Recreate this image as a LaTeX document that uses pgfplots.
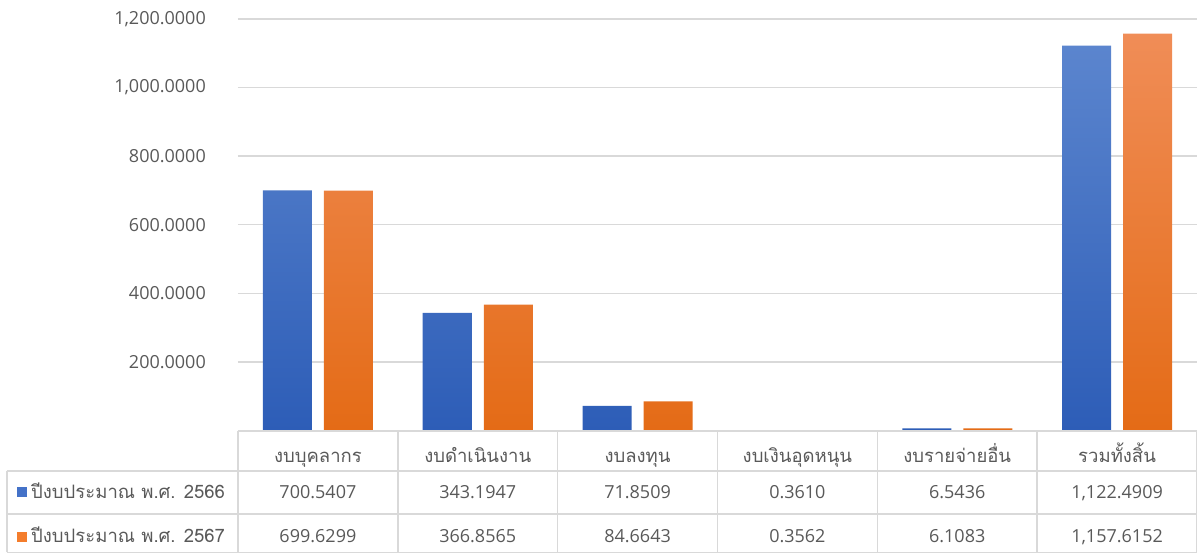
\documentclass[border=0pt]{standalone}
\usepackage{fontspec}
\setmainfont{Open Sans}
\newfontfamily\thaifont[Script=Thai]{Loma}
\usepackage{pgfplots}
\pgfplotsset{compat=1.18}
\definecolor{txt}{HTML}{595959}
\definecolor{gridc}{HTML}{D9D9D9}
\definecolor{btop}{HTML}{5B85CE}
\definecolor{bmid}{HTML}{4472C8}
\definecolor{bbot}{HTML}{2D5DB7}
\definecolor{otop}{HTML}{F08D57}
\definecolor{omid}{HTML}{F47D2C}
\definecolor{obot}{HTML}{E46B16}
\begin{document}
\begin{tikzpicture}[font=\fontsize{18}{21}\selectfont, text=txt]
\begin{axis}[
  at={(0,0)}, anchor=south west,
  scale only axis, width=959pt, height=411.5pt,
  xmin=-0.5, xmax=5.5, ymin=0, ymax=1200,
  ybar, clip=false,
  axis line style={draw=none}, tick style={draw=none},
  ytick={200,400,...,1200},
  ymajorgrids, grid style={gridc, line width=1.5pt},
  /pgf/number format/assume math mode=true,
  yticklabel style={/pgf/number format/fixed, /pgf/number format/fixed zerofill, /pgf/number format/precision=4, /pgf/number format/1000 sep={,},
    inner sep=0pt, xshift=-32pt, text=txt, font=\fontsize{18}{21}\selectfont},
  xtick={0,1,2,3,4,5},
  xticklabels={งบบุคลากร, งบดำเนินงาน, งบลงทุน, งบเงินอุดหนุน, งบรายจ่ายอื่น, รวมทั้งสิ้น},
  xticklabel style={font=\thaifont\fontsize{18.5}{21}\selectfont, text=txt, anchor=base, inner sep=0pt, yshift=-27.5pt},
]
\addplot[ybar, bar width=49pt, bar shift=-30.5pt, draw=none, top color=btop, middle color=bmid, bottom color=bbot]
  coordinates {(0,700.5407) (1,343.1947) (2,71.8509) (3,0.3610) (4,6.5436) (5,1122.4909)};
\addplot[ybar, bar width=49pt, bar shift=30.5pt, draw=none, top color=otop, middle color=omid, bottom color=obot]
  coordinates {(0,699.6299) (1,366.8565) (2,84.6643) (3,0.3562) (4,6.1083) (5,1157.6152)};
\end{axis}
% data table below the chart
\begin{scope}[x=1pt, y=1pt]
\begin{scope}[gridc, line width=1.5pt]
  \draw (0,-0.5) -- (958.5,-0.5);
  \draw (-231,-40.5) -- (958.5,-40.5);
  \draw (-231,-83.5) -- (958.5,-83.5);
  \draw (-231,-122) -- (958.5,-122);
  \foreach \i in {0,1,2,3,4,5} {\draw ({\i*159.83},-0.5) -- ({\i*159.83},-122);}
  \draw (958.3,-0.5) -- (958.3,-122);
  \draw (-231,-40.5) -- (-231,-122);
\end{scope}
\fill[bmid] (-221,-67) rectangle (-211,-57);
\fill[omid] (-221,-111.5) rectangle (-211,-101.5);
\node[anchor=base west, inner sep=0pt, font=\thaifont\fontsize{18.5}{21}\selectfont] at (-207,-68) {ปีงบประมาณ พ.ศ. 2566};
\node[anchor=base west, inner sep=0pt, font=\thaifont\fontsize{18.5}{21}\selectfont] at (-207,-112.5) {ปีงบประมาณ พ.ศ. 2567};
\foreach \v [count=\i from 0] in {700.5407, 343.1947, 71.8509, 0.3610, 6.5436, {1,122.4909}}
  {\node[anchor=base, inner sep=0pt] at ({\i*159.83+79.9},-68) {\v};}
\foreach \v [count=\i from 0] in {699.6299, 366.8565, 84.6643, 0.3562, 6.1083, {1,157.6152}}
  {\node[anchor=base, inner sep=0pt] at ({\i*159.83+79.9},-112.5) {\v};}
\pgfresetboundingbox
\useasboundingbox (-238,-122.5) rectangle (959,430.5);
\end{scope}
\end{tikzpicture}
\end{document}
